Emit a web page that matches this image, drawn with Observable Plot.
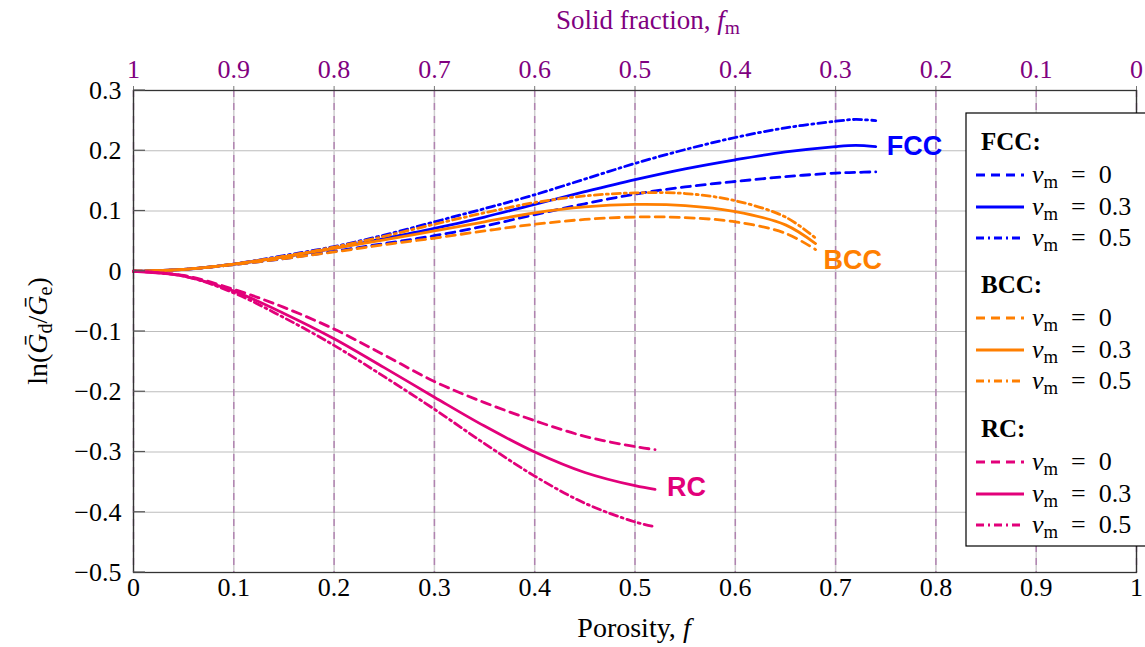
<!DOCTYPE html>
<html>
<head>
<meta charset="utf-8">
<script src="https://cdn.jsdelivr.net/npm/d3@7"></script>
<script src="https://cdn.jsdelivr.net/npm/@observablehq/plot@0.6"></script>
<style>
  html, body { margin: 0; padding: 0; background: #fff; }
  #chart { width: 1145px; height: 647px; overflow: hidden; }
</style>
</head>
<body>
<div id="chart"></div>
<script>
// ---------------- data ----------------
const xTicks = [0, 0.1, 0.2, 0.3, 0.4, 0.5, 0.6, 0.7, 0.8, 0.9, 1];
const xTickLabels = ["0", "0.1", "0.2", "0.3", "0.4", "0.5", "0.6", "0.7", "0.8", "0.9", "1"];
const topTickLabels = ["1", "0.9", "0.8", "0.7", "0.6", "0.5", "0.4", "0.3", "0.2", "0.1", "0"];
const yTicks = [-0.5, -0.4, -0.3, -0.2, -0.1, 0, 0.1, 0.2, 0.3];
const yTickLabels = ["−0.5", "−0.4", "−0.3", "−0.2", "−0.1", "0", "0.1", "0.2", "0.3"];

const structures = ["FCC", "BCC", "RC"];
const nuValues = ["0", "0.3", "0.5"];
const structureColors = ["#0000ff", "#ff7f00", "#e2007a"];
const nuDash = ["9,6", null, "8,4,2,4"];

// porosity sampling for each structure
const fccF = [0, 0.05, 0.1, 0.15, 0.2, 0.25, 0.3, 0.35, 0.4, 0.45, 0.5, 0.55, 0.6, 0.65, 0.7, 0.72, 0.74];
const bccF = [0, 0.05, 0.1, 0.15, 0.2, 0.25, 0.3, 0.35, 0.4, 0.45, 0.5, 0.55, 0.6, 0.65, 0.68];
const rcF  = [0, 0.05, 0.1, 0.15, 0.2, 0.25, 0.3, 0.35, 0.4, 0.45, 0.5, 0.52];

// ln(Gd/Ge) values
const fccNu0  = [0, 0.003, 0.011, 0.021, 0.033, 0.046, 0.059, 0.075, 0.094, 0.112, 0.128, 0.140, 0.149, 0.157, 0.163, 0.164, 0.165];
const fccNu03 = [0, 0.003, 0.012, 0.024, 0.038, 0.054, 0.071, 0.090, 0.111, 0.132, 0.152, 0.170, 0.185, 0.198, 0.207, 0.209, 0.207];
const fccNu05 = [0, 0.003, 0.012, 0.026, 0.041, 0.060, 0.082, 0.104, 0.127, 0.153, 0.179, 0.202, 0.222, 0.238, 0.249, 0.252, 0.250];

const bccNu0  = [0, 0.003, 0.011, 0.021, 0.032, 0.044, 0.055, 0.067, 0.078, 0.086, 0.090, 0.089, 0.082, 0.063, 0.036];
const bccNu03 = [0, 0.003, 0.012, 0.024, 0.038, 0.052, 0.067, 0.082, 0.097, 0.107, 0.111, 0.109, 0.099, 0.077, 0.046];
const bccNu05 = [0, 0.003, 0.012, 0.025, 0.040, 0.058, 0.078, 0.097, 0.114, 0.125, 0.130, 0.129, 0.117, 0.090, 0.055];

const rcNu0  = [0, -0.007, -0.030, -0.060, -0.096, -0.139, -0.183, -0.218, -0.248, -0.274, -0.291, -0.296];
const rcNu03 = [0, -0.008, -0.033, -0.070, -0.112, -0.160, -0.209, -0.257, -0.300, -0.334, -0.356, -0.362];
const rcNu05 = [0, -0.008, -0.036, -0.077, -0.123, -0.175, -0.229, -0.286, -0.340, -0.385, -0.416, -0.424];

// ---------------- build table ----------------
const seriesDefs = [
  {s: 0, n: 0, f: fccF, v: fccNu0}, {s: 0, n: 1, f: fccF, v: fccNu03}, {s: 0, n: 2, f: fccF, v: fccNu05},
  {s: 1, n: 0, f: bccF, v: bccNu0}, {s: 1, n: 1, f: bccF, v: bccNu03}, {s: 1, n: 2, f: bccF, v: bccNu05},
  {s: 2, n: 0, f: rcF,  v: rcNu0},  {s: 2, n: 1, f: rcF,  v: rcNu03},  {s: 2, n: 2, f: rcF,  v: rcNu05}
];
const rows = [];
for (const d of seriesDefs) {
  d.f.forEach((fv, i) => rows.push({
    key: structures[d.s] + "-" + nuValues[d.n],
    structure: structures[d.s], nu: nuValues[d.n],
    f: fv, y: d.v[i]
  }));
}
// end-of-curve labels (anchored to last point of the ν=0.3 curve)
const labelDx = {FCC: 11, BCC: 8, RC: 12};
const labelDy = {FCC: 0, BCC: 17, RC: -2};

const serif = "'Liberation Serif', 'DejaVu Serif', serif";
const purple = "#800080";

const lineMarks = seriesDefs.map(d => {
  const key = structures[d.s] + "-" + nuValues[d.n];
  const opts = {x: "f", y: "y", stroke: structureColors[d.s], strokeWidth: 2.8, curve: "catmull-rom"};
  if (nuDash[d.n]) opts.strokeDasharray = nuDash[d.n];
  return Plot.line(rows.filter(r => r.key === key), opts);
});
const labelMarks = seriesDefs.filter(d => d.n === 1).map(d => {
  const name = structures[d.s];
  return Plot.text([{text: name, f: d.f[d.f.length - 1], y: d.v[d.v.length - 1]}], {
    x: "f", y: "y", text: "text", fill: structureColors[d.s], textAnchor: "start",
    dx: labelDx[name], dy: labelDy[name],
    fontFamily: "'Liberation Sans', Arial, sans-serif", fontWeight: "bold", fontSize: 27
  });
});

const chart = Plot.plot({
  width: 1145, height: 647,
  marginLeft: 133, marginRight: 9, marginTop: 90, marginBottom: 75,
  x: {type: "linear", domain: [0, 1]},
  y: {type: "linear", domain: [-0.5, 0.3]},
  style: {fontFamily: serif, fontSize: "26px", color: "black", background: "white"},
  marks: [
    Plot.gridY(yTicks, {stroke: "#bdbdbd", strokeOpacity: 1, strokeWidth: 1.2}),
    Plot.gridX(xTicks, {stroke: "#cfcfcf", strokeOpacity: 1, strokeWidth: 1.5}),
    Plot.gridX(xTicks, {stroke: "#a56aa5", strokeOpacity: 0.75, strokeWidth: 1.5, strokeDasharray: "7,6"}),
    Plot.axisX(xTicks, {anchor: "bottom", tickSize: 0, tickPadding: 5, label: null, fontSize: 26,
      tickFormat: d => xTickLabels[xTicks.indexOf(d)]}),
    Plot.axisX(xTicks, {anchor: "top", tickSize: 5, tickPadding: 8, label: null, stroke: "#777", fontSize: 26,
      fill: purple, tickFormat: d => topTickLabels[xTicks.indexOf(d)]}),
    Plot.axisY(yTicks, {anchor: "left", tickSize: 0, tickPadding: 12, label: null, fontSize: 26,
      tickFormat: d => yTickLabels[yTicks.indexOf(d)]}),
    ...lineMarks,
    Plot.frame({stroke: "#333", strokeWidth: 1.3}),
    ...labelMarks
  ]
});
document.getElementById("chart").appendChild(chart);

// ---------------- titles, inner ticks and legend ----------------
const svg = d3.select(chart);
const ys = chart.scale("y");
const xs = chart.scale("x");
const tg = svg.append("g");
yTicks.forEach(t => {
  const yy = ys.apply(t);
  tg.append("line").attr("x1", xs.apply(0)).attr("x2", xs.apply(0) + 12).attr("y1", yy).attr("y2", yy)
    .attr("stroke", "#555").attr("stroke-width", 1.2);
});

function mathText(g, parts, attrs) {
  const t = g.append("text");
  for (const k in attrs) t.attr(k, attrs[k]);
  for (const p of parts) {
    const ts = t.append("tspan").text(p.t);
    if (p.i) ts.attr("font-style", "italic");
    if (p.sub) ts.attr("baseline-shift", "-25%").attr("font-size", "0.72em");
  }
  return t;
}
// top title
mathText(svg, [{t: "Solid fraction, "}, {t: "f", i: true}, {t: "m", sub: true}],
  {x: 648, y: 29, "text-anchor": "middle", fill: purple, "font-size": 27, "font-family": serif});
// bottom title
mathText(svg, [{t: "Porosity, "}, {t: "f", i: true}],
  {x: 634, y: 637, "text-anchor": "middle", fill: "black", "font-size": 28, "font-family": serif});
// y title
mathText(svg, [{t: "ln("}, {t: "Ḡ", i: true}, {t: "d", sub: true}, {t: "/"}, {t: "Ḡ", i: true}, {t: "e", sub: true}, {t: ")"}],
  {transform: "translate(47,331) rotate(-90)", "text-anchor": "middle", fill: "black", "font-size": 28, "font-family": serif});

// legend
const lg = svg.append("g").attr("text-anchor", "start").attr("font-family", serif);
lg.append("rect").attr("x", 966).attr("y", 113).attr("width", 200).attr("height", 433)
  .attr("fill", "white").attr("stroke", "black").attr("stroke-width", 1.2);
const headerY = [141, 284, 428];
const entryOffsets = [34, 66, 97];
structures.forEach((s, si) => {
  lg.append("text").attr("x", 981).attr("y", headerY[si] + 9).attr("text-anchor", "start")
    .attr("font-size", 25).attr("font-weight", "bold").text(s + ":");
  nuValues.forEach((nu, ni) => {
    const yy = headerY[si] + entryOffsets[ni];
    const ln = lg.append("line").attr("x1", 976).attr("x2", 1024).attr("y1", yy).attr("y2", yy)
      .attr("stroke", structureColors[si]).attr("stroke-width", 2.8);
    if (nuDash[ni]) ln.attr("stroke-dasharray", nuDash[ni]);
    mathText(lg, [{t: "ν", i: true}, {t: "m", sub: true}, {t: "\u2002=\u2002" + nu}],
      {x: 1032, y: yy + 8, "text-anchor": "start", fill: "black", "font-size": 26});
  });
});
</script>
</body>
</html>
